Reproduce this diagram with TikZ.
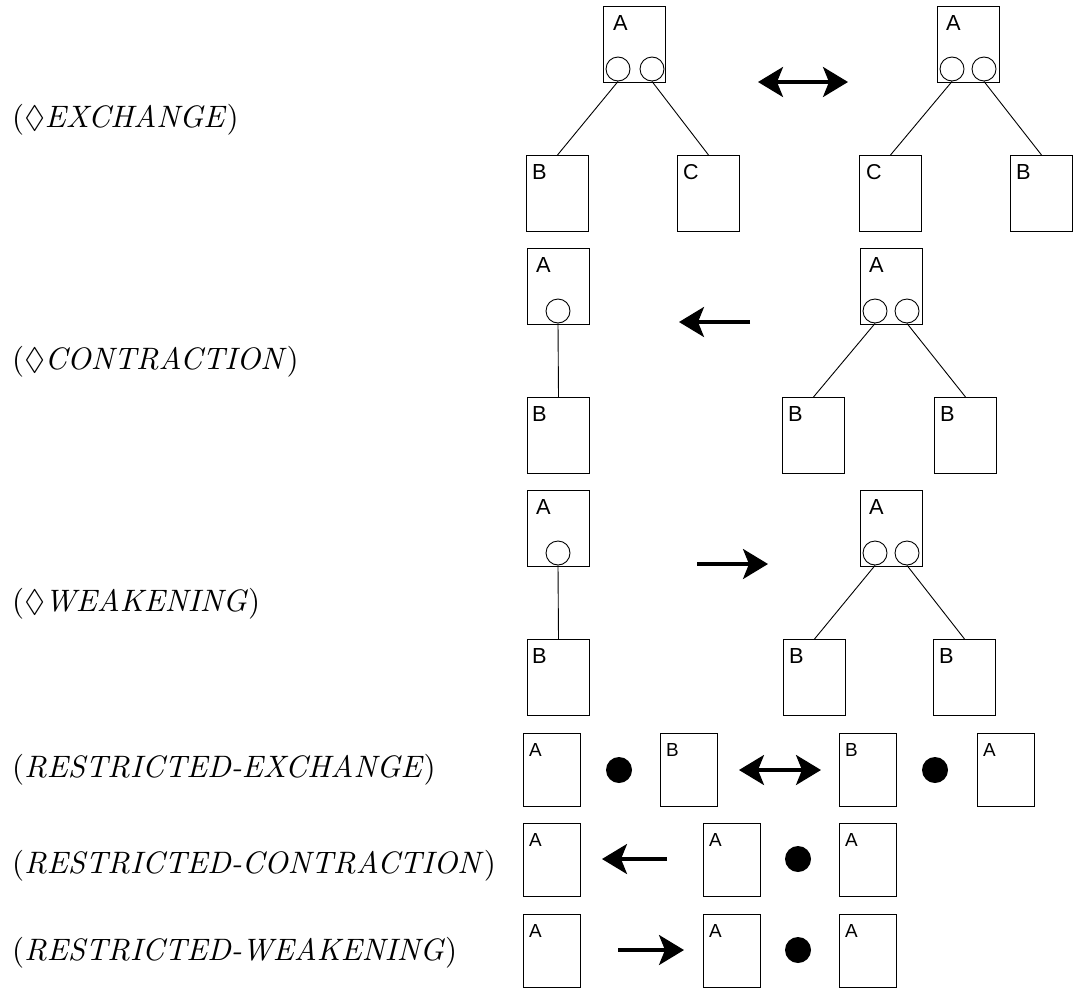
\documentclass[tikz,border=0pt]{standalone}
\usepackage{amssymb}
\usepackage{graphicx}
\usepackage{fontspec}
\newfontfamily\boxfont{Liberation Sans}
\usetikzlibrary{arrows.meta}

\tikzset{
  bigbox/.style={draw, line width=1pt, minimum width=62pt, minimum height=76pt,
                 inner sep=0pt, anchor=north west},
  smallbox/.style={draw, line width=1pt, minimum width=57pt, minimum height=73pt,
                   inner sep=0pt, anchor=north west},
  port/.style={draw, circle, line width=0.9pt, minimum size=24pt, inner sep=0pt},
  blob/.style={fill, circle, minimum size=26pt, inner sep=0pt},
  link/.style={line width=0.9pt},
  head/.tip={Stealth[length=25pt, width=30pt, inset=6pt]},
  onearrow/.style={line width=3.2pt, -head},
  twoarrow/.style={line width=3.2pt, head-head},
  tag/.style={anchor=north west, inner sep=0pt},
  rulename/.style={anchor=base west, inner sep=0pt},
}

% letter set to a given capital height
\newcommand\capletter[2]{\resizebox{!}{#1}{\boxfont #2}}
% tree box: name, x, y (top left corner), letter, letter inset
\newcommand\tbox[5]{%
  \node[bigbox] (#1) at (#2,#3) {};
  \node[tag] (#1t) at ([shift={(#5,9)}]#1.north west) {\capletter{15pt}{#4}};
}
% flat box: name, x, y (top left corner), letter
\newcommand\lbox[4]{%
  \node[smallbox] (#1) at (#2,#3) {};
  \node[tag] (#1t) at ([shift={(6,10)}]#1.north west) {\capletter{13pt}{#4}};
}
% rule name in parentheses, optionally with a diamond in front
\newcommand\rulename[2]{\scalebox{3.1}{(#1\textit{#2})}}

\begin{document}
\begin{tikzpicture}[x=1pt, y=-1pt]
\useasboundingbox (0,0) rectangle (1073,988);

% rule names
\node[rulename] (n1) at (12,127) {\rulename{$\Diamond$}{EXCHANGE}};
\node[rulename] (n2) at (12,369) {\rulename{$\Diamond$}{CONTRACTION}};
\node[rulename] (n3) at (12,611) {\rulename{$\Diamond$}{WEAKENING}};
\node[rulename] (n4) at (12,777) {\rulename{}{RESTRICTED-EXCHANGE}};
\node[rulename] (n5) at (12,873) {\rulename{}{RESTRICTED-CONTRACTION}};
\node[rulename] (n6) at (12,960) {\rulename{}{RESTRICTED-WEAKENING}};

% diamond exchange
\tbox{ea}{603}{6}{A}{10}
\node[port] (ea1) at ([shift={(15,63)}]ea.north west) {};
\node[port] (ea2) at ([shift={(49,63)}]ea.north west) {};
\tbox{eb}{526}{155}{B}{6}
\tbox{ec}{677}{155}{C}{6}
\draw[link] (ea1.south) -- (eb.north);
\draw[link] (ea2.south) -- (ec.north);

\coordinate (x1l) at (758,82);
\coordinate (x1r) at (848,82);
\draw[twoarrow] (x1l) -- (x1r);

\tbox{fa}{937}{6}{A}{9}
\node[port] (fa1) at ([shift={(15,63)}]fa.north west) {};
\node[port] (fa2) at ([shift={(47,63)}]fa.north west) {};
\tbox{fc}{859}{155}{C}{7}
\tbox{fb}{1010}{155}{B}{6}
\draw[link] (fa1.south) -- (fc.north);
\draw[link] (fa2.south) -- (fb.north);

% diamond contraction
\tbox{ca}{527}{248}{A}{9}
\node[port] (ca1) at ([shift={(31,63)}]ca.north west) {};
\tbox{cb}{527}{397}{B}{5}
\draw[link] (ca1.south) -- (cb.north);

\coordinate (x2a) at (750,322);
\coordinate (x2b) at (679,322);
\draw[onearrow] (x2a) -- (x2b);

\tbox{da}{860}{248}{A}{9}
\node[port] (da1) at ([shift={(15,63)}]da.north west) {};
\node[port] (da2) at ([shift={(47,63)}]da.north west) {};
\tbox{db}{782}{397}{B}{6}
\tbox{dc}{934}{397}{B}{6}
\draw[link] (da1.south) -- (db.north);
\draw[link] (da2.south) -- (dc.north);

% diamond weakening
\tbox{wa}{527}{490}{A}{9}
\node[port] (wa1) at ([shift={(31,63)}]wa.north west) {};
\tbox{wb}{527}{639}{B}{5}
\draw[link] (wa1.south) -- (wb.north);

\coordinate (x3a) at (697,564);
\coordinate (x3b) at (768,564);
\draw[onearrow] (x3a) -- (x3b);

\tbox{va}{860}{490}{A}{9}
\node[port] (va1) at ([shift={(15,63)}]va.north west) {};
\node[port] (va2) at ([shift={(47,63)}]va.north west) {};
\tbox{vb}{783}{639}{B}{6}
\tbox{vc}{933}{639}{B}{6}
\draw[link] (va1.south) -- (vb.north);
\draw[link] (va2.south) -- (vc.north);

% restricted exchange
\lbox{ra}{523}{733}{A}
\node[blob] (rd1) at (619,770) {};
\lbox{rb}{660}{733}{B}
\coordinate (x4l) at (739,770);
\coordinate (x4r) at (821,770);
\draw[twoarrow] (x4l) -- (x4r);
\lbox{rc}{839}{733}{B}
\node[blob] (rd2) at (935,770) {};
\lbox{re}{977}{733}{A}

% restricted contraction
\lbox{sa}{523}{823}{A}
\coordinate (x5a) at (667,859);
\coordinate (x5b) at (602,859);
\draw[onearrow] (x5a) -- (x5b);
\lbox{sb}{703}{823}{A}
\node[blob] (sd) at (798,859) {};
\lbox{sc}{839}{823}{A}

% restricted weakening
\lbox{ta}{523}{914}{A}
\coordinate (x6a) at (618,950);
\coordinate (x6b) at (684,950);
\draw[onearrow] (x6a) -- (x6b);
\lbox{tb}{703}{914}{A}
\node[blob] (td) at (798,950) {};
\lbox{tc}{839}{914}{A}
\end{tikzpicture}
\end{document}
